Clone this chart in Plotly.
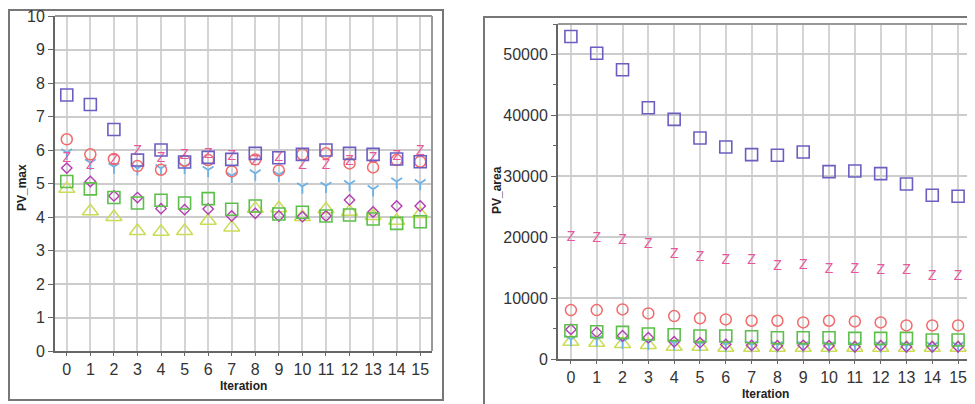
import plotly.graph_objects as go

iterations = list(range(16))

# PV_max (left chart)
max_blue_sq = [7.64, 7.36, 6.61, 5.70, 6.00, 5.64, 5.78, 5.72, 5.90, 5.77, 5.87, 6.00, 5.90, 5.87, 5.73, 5.65]
max_red_circ = [6.32, 5.87, 5.73, 5.52, 5.41, 5.68, 5.70, 5.36, 5.72, 5.39, 5.87, 5.90, 5.60, 5.48, 5.70, 5.65]
max_pink_z = [5.75, 5.55, 5.70, 5.95, 5.75, 5.85, 5.88, 5.80, 5.65, 5.77, 5.55, 5.55, 5.65, 5.75, 5.80, 5.95]
max_lblue_y = [5.92, 5.62, 5.50, 5.45, 5.45, 5.50, 5.40, 5.23, 5.30, 5.26, 4.91, 4.93, 4.98, 4.83, 5.06, 5.01]
max_diamond = [5.46, 5.06, 4.63, 4.58, 4.25, 4.22, 4.24, 4.03, 4.11, 4.03, 4.01, 4.03, 4.51, 4.15, 4.33, 4.33]
max_green_sq = [5.06, 4.84, 4.58, 4.42, 4.50, 4.42, 4.55, 4.23, 4.33, 4.09, 4.14, 4.03, 4.06, 3.94, 3.81, 3.86]
max_triangle = [4.84, 4.17, 4.00, 3.58, 3.56, 3.58, 3.89, 3.69, 4.25, 4.26, 4.00, 4.23, 4.16, 4.03, 3.89, 4.09]

# PV_area (right chart)
area_blue_sq = [52950, 50210, 47490, 41260, 39340, 36280, 34800, 33550, 33440, 33990, 30770, 30870, 30440, 28740, 26890, 26720]
area_red_circ = [8030, 8030, 8140, 7480, 7050, 6670, 6500, 6280, 6280, 6010, 6280, 6170, 6010, 5520, 5520, 5520]
area_pink_z = [19950, 19790, 19400, 18800, 17210, 16610, 16230, 16120, 15250, 15410, 14750, 14750, 14590, 14590, 13500, 13610]
area_lblue_y = [3220, 3220, 2840, 2680, 2570, 2450, 2350, 2300, 2250, 2250, 2200, 2150, 2200, 2150, 2150, 2150]
area_diamond = [4860, 4370, 3820, 3500, 2840, 2680, 2400, 2240, 2190, 2240, 2190, 2020, 2190, 2020, 2020, 2020]
area_green_sq = [4640, 4480, 4370, 4100, 3990, 3770, 3770, 3660, 3500, 3500, 3500, 3390, 3390, 3390, 3110, 3110]
area_triangle = [2840, 2680, 2460, 2300, 2020, 2020, 1860, 1860, 1860, 1860, 1860, 1860, 1860, 1860, 1860, 1860]

C_BLUE = "#6a5fc1"
C_RED = "#f26a6a"
C_PINK = "#e8559a"
C_LBLUE = "#6fb2e6"
C_DIAM = "#b43cb4"
C_TRI = "#cbdc55"
C_GREEN = "#5cbf4a"

fig = go.Figure()


def add_series(xa, ya, tri, yy, diam, green, z, circ, blue):
    fig.add_trace(go.Scatter(x=iterations, y=tri, mode="markers", xaxis=xa, yaxis=ya,
                             marker=dict(symbol="triangle-up-open", size=14, color=C_TRI,
                                         line=dict(width=1.5, color=C_TRI)), showlegend=False))
    fig.add_trace(go.Scatter(x=iterations, y=yy, mode="markers", xaxis=xa, yaxis=ya,
                             marker=dict(symbol="y-down", size=9, color=C_LBLUE,
                                         line=dict(width=1.8, color=C_LBLUE)), showlegend=False))
    fig.add_trace(go.Scatter(x=iterations, y=diam, mode="markers", xaxis=xa, yaxis=ya,
                             marker=dict(symbol="diamond-open", size=8, color=C_DIAM,
                                         line=dict(width=1.4, color=C_DIAM)), showlegend=False))
    fig.add_trace(go.Scatter(x=iterations, y=green, mode="markers", xaxis=xa, yaxis=ya,
                             marker=dict(symbol="square-open", size=12, color=C_GREEN,
                                         line=dict(width=1.6, color=C_GREEN)), showlegend=False))
    fig.add_trace(go.Scatter(x=iterations, y=z, mode="text", xaxis=xa, yaxis=ya, text=["Z"] * len(z),
                             textposition="middle center",
                             textfont=dict(family="Liberation Sans, Arial", size=14, color=C_PINK),
                             showlegend=False))
    fig.add_trace(go.Scatter(x=iterations, y=circ, mode="markers", xaxis=xa, yaxis=ya,
                             marker=dict(symbol="circle-open", size=11, color=C_RED,
                                         line=dict(width=1.5, color=C_RED)), showlegend=False))
    fig.add_trace(go.Scatter(x=iterations, y=blue, mode="markers", xaxis=xa, yaxis=ya,
                             marker=dict(symbol="square-open", size=12, color=C_BLUE,
                                         line=dict(width=1.6, color=C_BLUE)), showlegend=False))


add_series("x", "y", max_triangle, max_lblue_y, max_diamond, max_green_sq, max_pink_z, max_red_circ, max_blue_sq)
add_series("x2", "y2", area_triangle, area_lblue_y, area_diamond, area_green_sq, area_pink_z, area_red_circ, area_blue_sq)

# page body has an 8px margin, so the figure is shifted by 8px; compensate
OFF = 8
W, H = 975 - OFF, 404 - OFF


def px(x):
    return (x - OFF) / W


def py(y):
    return 1 - (y - OFF) / H


tickfont = dict(family="Liberation Sans, Arial", size=16, color="#333333")
titlefont = dict(family="Liberation Sans, Arial", size=12, color="#222222", weight="bold")

common_x = dict(range=[-0.5, 15.5], dtick=1, tick0=0, showgrid=True, gridcolor="#d4d4d4", gridwidth=2,
                showline=True, linecolor="#666666", linewidth=2, mirror=False, ticks="outside",
                ticklen=3, tickcolor="#666666", tickfont=tickfont, zeroline=False, automargin=False,
                ticklabeloverflow="allow")
common_y = dict(showgrid=True, gridcolor="#cccccc", gridwidth=1.5, showline=True, linecolor="#666666",
                linewidth=2, ticks="outside", ticklen=5, tickcolor="#666666", tickfont=tickfont,
                zeroline=False, automargin=False, tickformat="d", ticklabeloverflow="allow")

fig.update_layout(
    width=W, height=H, autosize=False,
    margin=dict(l=0, r=0, t=0, b=0),
    paper_bgcolor="white", plot_bgcolor="white",
    xaxis=dict(common_x, domain=[px(55), px(432)], anchor="y"),
    yaxis=dict(common_y, domain=[py(351), py(16)], anchor="x", range=[0, 10], dtick=1),
    xaxis2=dict(common_x, domain=[px(558), px(971)], anchor="y2"),
    yaxis2=dict(common_y, domain=[py(359), py(24)], anchor="x2", range=[0, 55000], dtick=10000,
                minor=dict(ticks="outside", ticklen=3, dtick=5000, tickcolor="#666666", showgrid=False)),
)

annotations = [
    dict(text="Iteration", x=px(243), y=py(386), xref="paper", yref="paper", showarrow=False,
         font=titlefont, xanchor="center", yanchor="middle"),
    dict(text="PV_max", x=px(22), y=py(188), xref="paper", yref="paper", showarrow=False,
         font=titlefont, textangle=-90, xanchor="center", yanchor="middle"),
    dict(text="Iteration", x=px(765), y=py(394), xref="paper", yref="paper", showarrow=False,
         font=titlefont, xanchor="center", yanchor="middle"),
    dict(text="PV_area", x=px(497), y=py(190), xref="paper", yref="paper", showarrow=False,
         font=titlefont, textangle=-90, xanchor="center", yanchor="middle"),
]

shapes = [
    dict(type="rect", xref="paper", yref="paper", x0=px(9), x1=px(443), y0=py(400), y1=py(10),
         line=dict(color="#777777", width=2), fillcolor="rgba(0,0,0,0)", layer="below"),
    dict(type="rect", xref="paper", yref="paper", x0=px(484), x1=px(990), y0=py(420), y1=py(17),
         line=dict(color="#777777", width=2), fillcolor="rgba(0,0,0,0)", layer="below"),
    dict(type="line", xref="paper", yref="paper", x0=px(55), x1=px(432), y0=py(16), y1=py(16),
         line=dict(color="#999999", width=2)),
    dict(type="line", xref="paper", yref="paper", x0=px(432), x1=px(432), y0=py(16), y1=py(351),
         line=dict(color="#999999", width=2)),
    dict(type="line", xref="paper", yref="paper", x0=px(558), x1=px(971), y0=py(24), y1=py(24),
         line=dict(color="#999999", width=2)),
    dict(type="line", xref="paper", yref="paper", x0=px(971), x1=px(971), y0=py(24), y1=py(359),
         line=dict(color="#999999", width=2)),
]
fig.update_layout(shapes=shapes, annotations=annotations)

fig.write_html("out.html")
